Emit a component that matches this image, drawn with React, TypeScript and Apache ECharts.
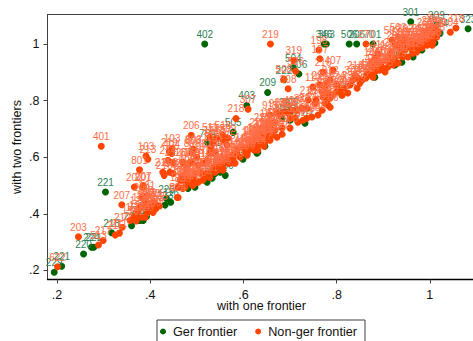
import React, { useEffect, useRef } from "react";
import * as echarts from "echarts";

type P = [number, number, string];

const xTicks = [0.2, 0.4, 0.6, 0.8, 1];
const yTicks = [0.2, 0.4, 0.6, 0.8, 1];

const gerFrontier: P[] = [
  [.517,1.0,"402"],[.607,.783,"403"],[.578,.688,"505"],[.523,.652,"704"],[.304,.477,"221"],
  [.194,.194,"229"],[.21,.215,"221"],[.257,.258,"220"],[.274,.282,"224"],[.279,.282,"221"],
  [.317,.333,"218"],[.36,.358,"216"],[.377,.377,"215"],[.392,.391,"214"],[.378,.377,"212"],[.385,.377,"213"],
  [.432,.431,"223"],[.435,.454,"225"],[.444,.441,"116"],[.481,.49,"226"],[.496,.494,"227"],
  [.522,.512,"228"],[.556,.554,"230"],[.55,.547,"203"],[.535,.618,"111"],[.561,.536,"706"],
  [.539,.543,"705"],[.533,.526,"703"],[.599,.593,"115"],[.629,.614,"117"],[.646,.639,"118"],
  [.631,.618,"119"],[.732,.72,"702"],[.694,.759,"302"],[.683,.738,"303"],[.7,.731,"306"],[.7,.759,"305"],
  [.959,1.079,"301"],[1.014,1.067,"309"],[1.082,1.054,"323"],[.773,1.0,"346"],[.778,1.0,"363"],
  [.827,1.0,"506"],[.843,1.0,"206"],[.878,1.0,"701"],[.707,.916,"504"],[.719,.894,"506"],
  [.687,.874,"222"],[.652,.829,"209"],[.925,.926,"708"],[.94,.936,"710"],[.964,.954,"711"],
  [.983,.979,"712"],[1.011,1.004,"713"],[1.022,1.039,"714"],[.811,.82,"715"],[.882,.883,"716"],
];

const nonGerFrontier: P[] = [
  [.295,.639,"401"],[.584,.737,"218"],[.61,.77,"307"],[.488,.678,"206"],[.447,.631,"103"],[.441,.619,"219"],
  [.391,.604,"103"],[.395,.593,"213"],[.493,.628,"803"],[.377,.556,"801"],[.366,.495,"202"],[.385,.5,"207"],
  [.339,.432,"207"],[.246,.319,"203"],[.289,.29,"513"],[.299,.306,"217"],[.201,.213,"622"],[.325,.325,"215"],
  [.334,.332,"211"],[.34,.353,"210"],
  [.528,.671,"511"],[.543,.667,"513"],[.556,.678,"518"],[.567,.667,"509"],[.53,.635,"101"],[.535,.65,"502"],
  [.446,.613,"404"],[.438,.589,"214"],[.449,.582,"212"],[.427,.547,"211"],[.43,.536,"210"],[.442,.547,"208"],
  [.449,.543,"802"],[.468,.519,"804"],[.47,.536,"805"],[.479,.554,"806"],[.485,.582,"807"],[.492,.625,"808"],
  [.49,.614,"809"],[.5,.6,"810"],[.503,.572,"811"],[.513,.579,"812"],[.522,.589,"813"],[.528,.614,"814"],
  [.511,.543,"815"],[.518,.529,"816"],[.492,.526,"817"],[.496,.508,"818"],[.481,.529,"819"],[.485,.512,"820"],
  [.49,.501,"821"],[.475,.512,"822"],[.47,.49,"823"],[.46,.458,"824"],[.458,.458,"825"],[.535,.561,"826"],
  [.543,.579,"827"],[.554,.582,"828"],[.565,.6,"829"],[.576,.607,"830"],[.586,.614,"114"],[.528,.529,"831"],
  [.539,.547,"832"],[.545,.554,"833"],[.385,.494,"201"],[.382,.458,"204"],[.389,.43,"205"],[.393,.441,"112"],
  [.378,.423,"113"],[.395,.423,"117"],[.404,.437,"120"],[.41,.437,"121"],[.374,.412,"122"],[.372,.395,"123"],
  [.382,.388,"124"],[.389,.388,"125"],[.393,.402,"126"],[.4,.412,"127"],
  [.658,1.0,"219"],[.762,.979,"198"],[.764,.948,"187"],[.708,.942,"319"],[.712,.904,"526"],[.687,.876,"508"],
  [.696,.842,"308"],[.863,1.0,"270"],[1.056,1.057,"318"],[1.044,1.042,"104"],
  [.749,.848,"110"],[.739,.802,"216"],[.754,.791,"317"],[.771,.901,"216"],[.792,.908,"407"],[.779,.862,"310"],
  [.775,.844,"311"],[.786,.873,"312"],[.771,.812,"313"],[.782,.827,"314"],[.786,.809,"315"],[.782,.784,"316"],
  [.775,.791,"320"],[.807,.837,"321"],[.812,.819,"322"],[.824,.827,"304"],[.835,.873,"304"],[.84,.89,"218"],
  [.844,.844,"309"],[.801,.855,"324"],
  [.704,.766,"418"],[.715,.766,"325"],[.726,.773,"326"],[.736,.773,"327"],[.747,.742,"328"],[.736,.738,"329"],
  [.728,.731,"330"],[.711,.738,"331"],[.717,.724,"332"],[.7,.738,"333"],[.696,.756,"334"],[.672,.756,"914"],
  [.657,.749,"911"],[.679,.749,"335"],[.685,.759,"336"],[.668,.724,"105"],[.661,.72,"106"],[.683,.703,"107"],
  [.7,.703,"108"],[.672,.671,"109"],[.683,.681,"128"],[.663,.688,"129"],[.653,.688,"130"],[.642,.678,"131"],
  [.653,.667,"132"],[.636,.66,"133"],[.625,.667,"134"],[.618,.643,"135"],[.629,.635,"136"],[.61,.632,"137"],
  [.603,.618,"138"],[.608,.607,"139"],
  [.919,1.014,"503"],[.932,1.025,"503"],[.936,1.007,"507"],[.947,1.007,"305"],[.889,.965,"411"],[.876,.936,"109"],
  [.887,.933,"410"],[.897,.936,"412"],[.908,.943,"109"],[.878,.915,"413"],[.889,.908,"414"],[.899,.915,"415"],
  [.91,.919,"416"],[.921,.926,"417"],[.932,.933,"419"],[.942,.954,"420"],[.953,.954,"421"],[.964,.968,"422"],
  [.975,.986,"423"],[.964,.989,"424"],[.953,.996,"425"],[.983,1.007,"426"],[.99,1.021,"427"],[1.0,1.032,"307"],
  [1.011,1.039,"428"],[1.007,1.021,"429"],[.996,1.007,"430"],[1.005,.996,"431"],[.994,.996,"432"],[.983,.986,"433"],
  [.972,.972,"434"],[1.015,1.025,"435"],[.867,.897,"436"],[.878,.883,"437"],[.85,.862,"438"],[.865,.89,"439"],
  [.962,1.014,"440"],[.94,.986,"441"],
  [.6,.635,"140"],[.614,.653,"141"],[.62,.66,"142"],[.631,.642,"143"],[.631,.625,"144"],[.646,.653,"145"],
  [.657,.66,"146"],[.653,.72,"147"],[.65,.688,"148"],[.586,.625,"149"],[.582,.579,"150"],[.556,.561,"151"],
  [.567,.579,"152"],[.554,.596,"153"],[.539,.618,"154"],[.565,.642,"155"],[.533,.66,"156"],[.556,.66,"157"],
  [.357,.377,"158"],[.406,.405,"159"],[.389,.448,"160"],[.393,.465,"161"],[.37,.375,"162"],[.365,.39,"163"],
  [.412,.418,"164"],[.42,.428,"165"],[.398,.43,"166"],
  [.47,.582,"167"],[.479,.565,"168"],[.49,.582,"169"],[.496,.543,"170"],[.507,.547,"171"],[.513,.519,"172"],
  [.503,.512,"173"],[.479,.519,"174"],[.464,.519,"175"],[.46,.494,"176"],[.475,.494,"177"],[.492,.501,"178"],
  [.522,.543,"179"],[.535,.554,"180"],[.55,.572,"181"],[.565,.589,"182"],[.578,.596,"183"],[.593,.6,"184"],
  [.608,.614,"185"],[.556,.554,"186"],[.571,.579,"188"],[.543,.561,"189"],
  [.61,.625,"190"],[.616,.635,"191"],[.623,.625,"192"],[.616,.66,"193"],[.627,.671,"194"],[.633,.66,"195"],
  [.64,.685,"196"],[.644,.671,"197"],[.651,.703,"199"],[.657,.706,"220"],[.64,.706,"223"],[.631,.688,"224"],
  [.661,.678,"225"],[.668,.696,"226"],[.644,.639,"227"],
  [.764,.855,"228"],[.769,.83,"229"],[.779,.802,"230"],[.79,.819,"231"],[.799,.83,"232"],[.816,.844,"233"],
  [.829,.855,"234"],[.756,.802,"235"],[.786,.777,"236"],[.769,.766,"237"],[.76,.749,"238"],
  [.846,.88,"239"],[.855,.873,"240"],[.863,.88,"241"],[.872,.89,"242"],[.882,.901,"243"],[.893,.908,"244"],
  [.904,.901,"245"],[.915,.936,"246"],[.925,.95,"247"],[.936,.961,"248"],[.947,.979,"249"],[.958,.986,"250"],
  [.968,1.007,"251"],[.979,1.021,"252"],[.99,1.043,"253"],[1.0,1.05,"254"],[1.011,1.057,"255"],[1.018,1.043,"256"],
  [.994,1.021,"257"],[1.007,1.007,"258"],[.99,1.0,"259"],[.925,.997,"260"],[.936,.986,"261"],[.947,1.021,"262"],
  [.958,1.007,"263"],[.968,.972,"264"],[.979,.989,"265"],[.919,.972,"266"],[.91,.958,"267"],[.882,.95,"268"],
];

const axisColor = "#404040";

export default function App() {
  const ref = useRef<HTMLDivElement>(null);
  useEffect(() => {
    const chart = echarts.init(ref.current!, undefined, { renderer: "svg" });
    const fmt = (v: number) => String(v).replace("0.", ".");
    const font = "Liberation Sans";
    chart.setOption({
      animation: false,
      grid: { left: 47.5, top: 14.5, width: 428, height: 265, show: true, borderColor: axisColor, borderWidth: 1, backgroundColor: "#fff", outerBoundsMode: "none" },
      xAxis: {
        type: "value", min: 0.1796, max: 1.098, splitLine: { show: false },
        name: "with one frontier", nameLocation: "middle", nameGap: 26.5, nameMoveOverlap: false,
        nameTextStyle: { fontFamily: font, fontSize: 12.5, color: "#111", verticalAlign: "middle" },
        axisLine: { show: true, lineStyle: { color: "#000", width: 1.3 } },
        axisTick: { show: true, length: 4, lineStyle: { color: axisColor }, customValues: xTicks },
        axisLabel: { customValues: xTicks, formatter: fmt, fontFamily: font, fontSize: 12.5, color: "#111", margin: 9 },
      },
      yAxis: {
        type: "value", min: 0.1681, max: 1.1044, splitLine: { show: false },
        name: "with two frontiers", nameLocation: "middle", nameGap: 30.5, nameRotate: 90, nameMoveOverlap: false,
        nameTextStyle: { fontFamily: font, fontSize: 12.5, color: "#111", verticalAlign: "middle" },
        axisLine: { show: true, lineStyle: { color: axisColor, width: 1 } },
        axisTick: { show: true, length: 4, lineStyle: { color: axisColor }, customValues: yTicks },
        axisLabel: { customValues: yTicks, formatter: fmt, fontFamily: font, fontSize: 12.5, color: "#111", margin: 8 },
      },
      legend: {
        show: true, left: 157, top: 320, orient: "horizontal", icon: "circle",
        itemWidth: 10, itemHeight: 6, itemGap: 18,
        padding: [5, 8, 12, 3], borderColor: axisColor, borderWidth: 1,
        textStyle: { fontFamily: font, fontSize: 12.7, color: "#111" },
        data: ["Ger frontier", "Non-ger frontier"],
      },
      series: [
        {
          name: "Ger frontier", type: "scatter", z: 2, symbolSize: 7, data: gerFrontier,
          itemStyle: { color: "#006400", opacity: 1 }, clip: false,
          label: { show: true, position: "top", distance: 1, fontFamily: font, fontSize: 10, color: "#2f7f58", formatter: (p: any) => p.value[2] },
        },
        {
          name: "Non-ger frontier", type: "scatter", z: 3, symbolSize: 7, data: nonGerFrontier,
          itemStyle: { color: "#ff4500", opacity: 1 }, clip: false,
          label: { show: true, position: "top", distance: 1, fontFamily: font, fontSize: 10, color: "#ff6e48", formatter: (p: any) => p.value[2] },
        },
      ],
    });
    return () => chart.dispose();
  }, []);
  return <div ref={ref} style={{ position: "absolute", left: 0, top: 0, width: 473, height: 341, background: "#fff" }} />;
}
